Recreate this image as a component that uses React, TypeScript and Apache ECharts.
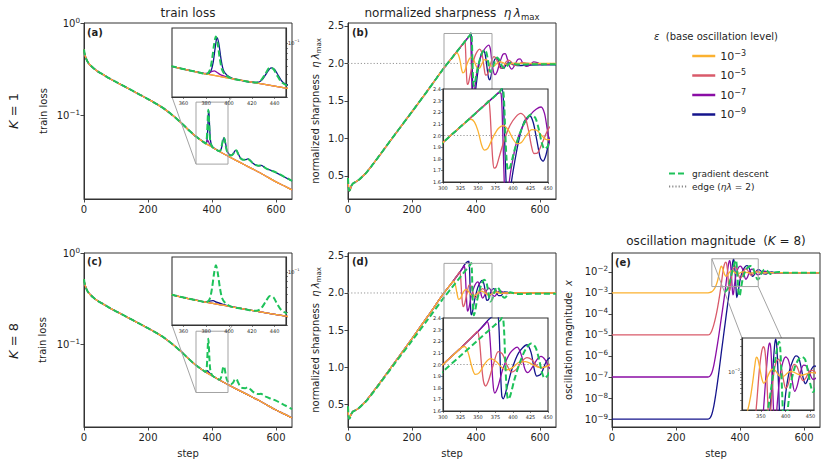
import { useEffect, useRef } from 'react';
import * as echarts from 'echarts';

type Pt = [number, number];

const FONT = 'DejaVu Sans';
const INK = '#1f1f1f';
const FRAME = '#333333';

const COLOR_E3 = '#fbb130';
const COLOR_E5 = '#d95a6a';
const COLOR_E7 = '#8a0da5';
const COLOR_E9 = '#14148c';
const COLOR_GD = '#1ec25a';
const COLOR_EDGE = '#8a8a8a';
const COLOR_BOX = '#a3a3a3';

const EPS_NAMES = ['10⁻³', '10⁻⁵', '10⁻⁷', '10⁻⁹'];
const EPS_EXPONENTS = [-3, -5, -7, -9];
const GD_NAME = 'gradient descent';
const EDGE_NAME = 'edge (ηλ = 2)';
const EDGE_LEVEL = 2;

// ---- axis extents and tick labels ----
const STEP_RANGE: Pt = [0, 650];
const LOSS_RANGE: Pt = [0.0126, 1];
const SHARP_RANGE: Pt = [0.19, 2.54];
const OSC_RANGE: Pt = [4.2e-10, 0.079];

const stepTicks = [0, 200, 400, 600];
const lossTicks = [0.1, 1];
const sharpTicks = [0.5, 1.0, 1.5, 2.0, 2.5];
const oscTicks = [1e-9, 1e-8, 1e-7, 1e-6, 1e-5, 1e-4, 1e-3, 1e-2];

// zoom windows shown in the insets
const lossZoomX: Pt = [350, 450];
const lossZoomY: Pt = [0.03, 0.14];
const sharpZoomX: Pt = [300, 450];
const sharpZoomY: Pt = [1.6, 2.4];
const oscZoomX: Pt = [312, 457];
const oscZoomY: Pt = [0.002, 0.042];

const insetLossXTicks = [360, 380, 400, 420, 440];
const insetLossYTicks = [0.03, 0.04, 0.05, 0.06, 0.07, 0.08, 0.09, 0.1];
const insetLossYLabels = [0.1];
const insetSharpXTicks = [300, 325, 350, 375, 400, 425, 450];
const insetSharpYTicks = [1.6, 1.7, 1.8, 1.9, 2.0, 2.1, 2.2, 2.3, 2.4];
const insetOscXTicks = [350, 400, 450];
const insetOscYTicks = [0.002, 0.003, 0.004, 0.005, 0.006, 0.007, 0.008, 0.009, 0.01, 0.02, 0.03, 0.04];
const insetOscYLabels = [0.01];

// ---- train loss ----
const lossBase: Pt[] = [
  [0, 0.52], [2, 0.465], [5, 0.43], [9, 0.395], [14, 0.37], [20, 0.35], [30, 0.325], [45, 0.297],
  [60, 0.277], [80, 0.252], [100, 0.231], [125, 0.208], [150, 0.187], [175, 0.168], [200, 0.151],
  [225, 0.135], [250, 0.119], [275, 0.102], [300, 0.086], [325, 0.071], [350, 0.0595], [375, 0.0515],
  [400, 0.0458], [425, 0.0408], [450, 0.0366], [475, 0.0329], [500, 0.0297], [525, 0.0268],
  [550, 0.0242], [575, 0.0216], [600, 0.0193], [625, 0.0175], [650, 0.0158],
];

const lossGDTail: Pt[] = [
  [380, 0.0502], [383, 0.054], [385, 0.068], [387, 0.098], [388.5, 0.116], [390, 0.1], [392, 0.07],
  [394, 0.055], [397, 0.049], [402, 0.0455], [410, 0.0437], [418, 0.042], [424, 0.0414], [428, 0.0435],
  [432, 0.0505], [436, 0.058], [439, 0.056], [442, 0.049], [446, 0.042], [452, 0.0385], [460, 0.0372],
  [466, 0.0385], [471, 0.0415], [476, 0.0422], [481, 0.039], [488, 0.035], [496, 0.0335], [504, 0.0334],
  [511, 0.0342], [518, 0.033], [527, 0.0308], [537, 0.0292], [546, 0.0288], [553, 0.029], [560, 0.0283],
  [570, 0.0268], [585, 0.0256], [600, 0.0244], [625, 0.022], [650, 0.0198],
];

const lossBlueK1Tail: Pt[] = [
  [381, 0.05], [384, 0.053], [386, 0.064], [388, 0.092], [389.5, 0.113], [391, 0.1], [393, 0.07],
  [395, 0.055], [398, 0.049], [403, 0.0455], [410, 0.0437], [418, 0.042], [425, 0.0415], [429, 0.044],
  [433, 0.051], [437, 0.0575], [440, 0.0555], [443, 0.049], [447, 0.042], [453, 0.0385], [460, 0.0373],
  [467, 0.039], [472, 0.0418], [477, 0.042], [482, 0.0388], [489, 0.035], [497, 0.0336], [505, 0.0335],
  [512, 0.0342], [519, 0.033], [528, 0.0307], [538, 0.0292], [547, 0.0288], [554, 0.029], [561, 0.0282],
  [571, 0.0267], [586, 0.0255], [600, 0.0243], [625, 0.0219], [650, 0.0197],
];

const lossPurpleK1Bump: Pt[] = [
  [378, 0.0508], [382, 0.0512], [385, 0.053], [387, 0.0538], [389, 0.0525], [392, 0.0497], [396, 0.0478], [402, 0.0455],
];

const lossBlueK8Bump: Pt[] = [
  [379, 0.0506], [383, 0.0516], [386, 0.052], [389, 0.0503], [394, 0.0482], [400, 0.0459],
];

// ---- normalized sharpness ----
const sharpRampK1: Pt[] = [
  [0, 0.47], [1, 0.39], [2, 0.33], [4, 0.3], [7, 0.32], [10, 0.36], [15, 0.395], [25, 0.42], [35, 0.45],
  [45, 0.49], [57, 0.54], [80, 0.665], [100, 0.78], [150, 1.07], [200, 1.355], [250, 1.645], [300, 1.94],
  [325, 2.075], [350, 2.21], [375, 2.345], [385, 2.4],
];

const sharpGDTail: Pt[] = [
  [381, 2.375], [385, 2.405], [387, 2.32], [389, 2.02], [391, 1.78], [393, 1.7], [396, 1.73], [402, 1.87],
  [410, 2.02], [418, 2.13], [426, 2.18], [432, 2.15], [437, 2.05], [441, 1.94], [445, 1.885], [450, 1.91],
  [458, 2.02], [466, 2.08], [474, 2.04], [482, 1.96], [490, 1.935], [498, 1.97], [507, 2.01], [516, 2.0],
  [528, 1.985], [545, 1.985], [570, 1.99], [610, 1.99], [650, 1.99],
];

const sharpOrangeK1Tail: Pt[] = [
  [330, 2.1], [335, 2.13], [340, 2.14], [345, 2.115], [350, 2.04], [355, 1.92], [359, 1.875], [364, 1.89],
  [371, 1.98], [379, 2.06], [386, 2.085], [393, 2.05], [400, 1.97], [406, 1.93], [412, 1.94], [419, 2.0],
  [427, 2.05], [434, 2.045], [441, 2.0], [448, 1.965], [456, 1.965], [465, 2.0], [474, 2.025], [484, 2.01],
  [494, 1.99], [505, 1.99], [518, 2.005], [535, 2.0], [650, 2.0],
];

const sharpRedK1Tail: Pt[] = [
  [360, 2.265], [365, 2.3], [367, 2.22], [369, 2.0], [371, 1.8], [373, 1.72], [376, 1.73], [380, 1.81],
  [388, 1.97], [396, 2.09], [404, 2.16], [411, 2.19], [417, 2.16], [422, 2.05], [426, 1.92], [430, 1.845],
  [435, 1.85], [442, 1.94], [450, 2.05], [456, 2.09], [462, 2.07], [470, 1.99], [477, 1.935], [485, 1.95],
  [494, 2.02], [502, 2.045], [510, 2.02], [520, 1.975], [531, 1.98], [543, 2.01], [556, 2.005], [575, 1.995],
  [650, 1.995],
];

const sharpPurpleK1Tail: Pt[] = [
  [380, 2.37], [383, 2.36], [385, 2.1], [387, 1.7], [389, 1.48], [392, 1.5], [397, 1.7], [405, 1.94],
  [415, 2.09], [425, 2.18], [433, 2.225], [440, 2.245], [445, 2.19], [449, 2.05], [454, 1.9], [459, 1.85],
  [466, 1.89], [475, 2.02], [484, 2.12], [491, 2.13], [498, 2.06], [505, 1.96], [512, 1.925], [520, 1.97],
  [530, 2.05], [538, 2.06], [547, 2.0], [557, 1.96], [568, 1.975], [580, 2.02], [592, 2.01], [605, 1.985],
  [620, 1.99], [650, 1.995],
];

const sharpBlueK1Tail: Pt[] = [
  [380, 2.37], [384, 2.405], [386, 2.33], [388, 1.98], [390, 1.62], [392, 1.46], [395, 1.5], [400, 1.69],
  [408, 1.95], [416, 2.12], [424, 2.17], [429, 2.11], [434, 1.96], [439, 1.81], [443, 1.78], [447, 1.83],
  [452, 1.96], [458, 2.05], [465, 2.075], [472, 2.01], [480, 1.935], [488, 1.94], [496, 1.995], [505, 2.01],
  [515, 1.985], [530, 1.97], [550, 1.975], [600, 1.98], [650, 1.98],
];

const sharpRampK8: Pt[] = [
  [0, 0.45], [1, 0.38], [2, 0.33], [4, 0.31], [7, 0.33], [10, 0.365], [15, 0.4], [25, 0.42], [35, 0.45],
  [45, 0.49], [57, 0.545], [80, 0.675], [100, 0.79], [150, 1.085], [200, 1.385], [250, 1.69], [300, 2.0],
  [325, 2.14], [350, 2.285], [375, 2.425],
];

const sharpOrangeK8Tail: Pt[] = [
  [326, 2.145], [331, 2.155], [336, 2.1], [341, 1.985], [346, 1.915], [352, 1.93], [360, 2.01], [368, 2.05],
  [376, 2.025], [384, 1.975], [392, 1.955], [400, 1.975], [409, 2.02], [418, 2.025], [428, 2.0], [438, 1.975],
  [447, 1.98], [456, 2.005], [466, 2.01], [478, 1.995], [495, 2.0], [650, 2.0],
];

const sharpRedK8Tail: Pt[] = [
  [345, 2.26], [349, 2.285], [352, 2.21], [355, 2.0], [358, 1.85], [361, 1.815], [365, 1.86], [372, 2.0],
  [379, 2.11], [385, 2.09], [391, 2.0], [398, 1.935], [405, 1.96], [413, 2.03], [420, 2.06], [427, 2.04],
  [434, 1.99], [441, 1.97], [449, 1.99], [458, 2.015], [468, 2.01], [480, 1.995], [495, 2.0], [650, 2.0],
];

const sharpPurpleK8Tail: Pt[] = [
  [360, 2.345], [363, 2.37], [366, 2.3], [369, 2.05], [372, 1.8], [374, 1.755], [378, 1.8], [386, 1.97],
  [396, 2.1], [406, 2.15], [412, 2.08], [417, 1.96], [421, 1.93], [427, 1.97], [434, 2.04], [440, 2.07],
  [446, 2.04], [452, 1.97], [458, 1.955], [466, 1.995], [474, 2.03], [484, 2.01], [494, 1.99], [510, 2.0],
  [650, 2.0],
];

const sharpBlueK8Tail: Pt[] = [
  [376, 2.415], [378, 2.43], [380, 2.31], [382, 1.97], [384, 1.73], [386, 1.705], [390, 1.77], [398, 1.95],
  [408, 2.1], [420, 2.17], [426, 2.1], [430, 1.97], [434, 1.9], [440, 1.92], [448, 2.03], [455, 2.06],
  [462, 2.035], [470, 1.965], [478, 1.965], [488, 2.015], [498, 2.01], [510, 1.995], [530, 2.0], [650, 2.0],
];

// ---- oscillation magnitude (K = 8) ----
const oscOrange: Pt[] = [
  [0, 1e-3], [296, 1e-3], [304, 1.03e-3], [311, 1.12e-3], [317, 1.35e-3], [323, 1.9e-3], [329, 3.4e-3],
  [334, 7e-3], [338, 0.0135], [341, 0.0186], [344, 0.0172], [348, 0.0115], [352, 0.0075], [356, 0.0062],
  [361, 0.0071], [367, 0.0096], [373, 0.0112], [379, 0.0106], [386, 0.0087], [393, 0.008], [400, 0.0089],
  [408, 0.0101], [415, 0.01], [423, 0.0092], [432, 0.0087], [442, 0.0092], [452, 0.0097], [465, 0.0094],
  [480, 0.009], [500, 0.0092], [550, 0.0091], [650, 0.009],
];

const oscRed: Pt[] = [
  [0, 1e-5], [300, 1e-5], [306, 1.1e-5], [312, 1.6e-5], [318, 3e-5], [324, 7e-5], [330, 2e-4], [336, 7e-4],
  [342, 3e-3], [347, 0.011], [351, 0.022], [355, 0.029], [358, 0.025], [361, 0.012], [363, 0.0045],
  [365, 0.0018], [367, 0.0012], [369, 0.0016], [372, 0.0038], [376, 0.0095], [381, 0.0155], [386, 0.0172],
  [391, 0.0122], [396, 0.0068], [400, 0.005], [405, 0.0059], [411, 0.0102], [417, 0.0138], [423, 0.0124],
  [429, 0.0087], [435, 0.0069], [441, 0.0079], [448, 0.0103], [455, 0.0107], [462, 0.0093], [470, 0.0085],
  [480, 0.0092], [492, 0.0095], [505, 0.009], [530, 0.0091], [650, 0.009],
];

const oscPurple: Pt[] = [
  [0, 1e-7], [300, 1e-7], [306, 1.1e-7], [312, 1.6e-7], [318, 3.5e-7], [324, 1.1e-6], [330, 4e-6],
  [336, 1.6e-5], [342, 7e-5], [348, 3e-4], [354, 1.4e-3], [359, 6e-3], [363, 0.018], [366, 0.031],
  [368, 0.034], [370, 0.027], [372, 0.012], [374, 0.0045], [376, 0.0015], [378, 0.0008], [380, 0.001],
  [383, 0.0026], [388, 0.0078], [394, 0.0148], [400, 0.0188], [405, 0.017], [410, 0.011], [414, 0.0062],
  [418, 0.0044], [423, 0.0055], [429, 0.0093], [436, 0.0133], [442, 0.0127], [448, 0.0096], [455, 0.0073],
  [462, 0.0078], [470, 0.0097], [478, 0.0107], [487, 0.0098], [496, 0.0088], [508, 0.009], [530, 0.0092],
  [650, 0.009],
];

const oscBlue: Pt[] = [
  [0, 1e-9], [300, 1e-9], [306, 1.1e-9], [312, 1.7e-9], [318, 4e-9], [324, 1.4e-8], [330, 6e-8], [336, 3e-7],
  [342, 1.6e-6], [348, 8e-6], [354, 4e-5], [360, 2e-4], [366, 1e-3], [371, 4.2e-3], [375, 0.015],
  [378, 0.033], [380, 0.04], [382, 0.03], [384, 0.013], [386, 0.0045], [388, 0.0013], [390, 0.0006],
  [392, 0.0006], [395, 0.0013], [400, 0.004], [407, 0.01], [415, 0.0168], [421, 0.0198], [426, 0.0184],
  [431, 0.0122], [436, 0.0072], [440, 0.0061], [445, 0.0075], [452, 0.0113], [459, 0.0129], [466, 0.0108],
  [473, 0.0081], [481, 0.0078], [490, 0.0095], [500, 0.01], [512, 0.009], [530, 0.0091], [650, 0.009],
];

const oscGD: Pt[] = [
  [352, 1.1e-3], [358, 1.3e-3], [364, 2e-3], [370, 4.5e-3], [376, 0.011], [381, 0.022], [385, 0.034],
  [387, 0.036], [389, 0.027], [391, 0.011], [393, 0.0038], [395, 0.0013], [397, 0.0007], [400, 0.0008],
  [404, 0.002], [410, 0.0058], [418, 0.012], [426, 0.017], [433, 0.0188], [439, 0.017], [445, 0.01],
  [450, 0.0058], [455, 0.0043], [460, 0.005], [467, 0.0084], [474, 0.0123], [481, 0.0127], [488, 0.0101],
  [495, 0.0079], [503, 0.0082], [512, 0.0097], [522, 0.01], [535, 0.0091], [550, 0.0091], [650, 0.009],
];

// replace the part of a base curve covered by a patch
const splice = (base: Pt[], patch: Pt[]): Pt[] => [
  ...base.filter((p) => p[0] < patch[0][0]),
  ...patch,
  ...base.filter((p) => p[0] > patch[patch.length - 1][0]),
];

const lossGD = splice(lossBase, lossGDTail);
const sharpGD = splice(sharpRampK1, sharpGDTail);

interface Curve { name: string; color: string; data: Pt[]; dashed?: boolean }

// drawing order: dark first, orange over them, gradient descent on top
const lossK1: Curve[] = [
  { name: EPS_NAMES[3], color: COLOR_E9, data: splice(lossBase, lossBlueK1Tail) },
  { name: EPS_NAMES[2], color: COLOR_E7, data: splice(lossBase, lossPurpleK1Bump) },
  { name: EPS_NAMES[1], color: COLOR_E5, data: lossBase },
  { name: EPS_NAMES[0], color: COLOR_E3, data: lossBase },
  { name: GD_NAME, color: COLOR_GD, data: lossGD, dashed: true },
];
const lossK8: Curve[] = [
  { name: EPS_NAMES[3], color: COLOR_E9, data: splice(lossBase, lossBlueK8Bump) },
  { name: EPS_NAMES[2], color: COLOR_E7, data: lossBase },
  { name: EPS_NAMES[1], color: COLOR_E5, data: lossBase },
  { name: EPS_NAMES[0], color: COLOR_E3, data: lossBase },
  { name: GD_NAME, color: COLOR_GD, data: lossGD, dashed: true },
];
const sharpK1: Curve[] = [
  { name: EPS_NAMES[3], color: COLOR_E9, data: splice(sharpRampK1, sharpBlueK1Tail) },
  { name: EPS_NAMES[2], color: COLOR_E7, data: splice(sharpRampK1, sharpPurpleK1Tail) },
  { name: EPS_NAMES[1], color: COLOR_E5, data: splice(sharpRampK1, sharpRedK1Tail) },
  { name: EPS_NAMES[0], color: COLOR_E3, data: splice(sharpRampK1, sharpOrangeK1Tail) },
  { name: GD_NAME, color: COLOR_GD, data: sharpGD, dashed: true },
];
const sharpK8: Curve[] = [
  { name: EPS_NAMES[3], color: COLOR_E9, data: splice(sharpRampK8, sharpBlueK8Tail) },
  { name: EPS_NAMES[2], color: COLOR_E7, data: splice(sharpRampK8, sharpPurpleK8Tail) },
  { name: EPS_NAMES[1], color: COLOR_E5, data: splice(sharpRampK8, sharpRedK8Tail) },
  { name: EPS_NAMES[0], color: COLOR_E3, data: splice(sharpRampK8, sharpOrangeK8Tail) },
  { name: GD_NAME, color: COLOR_GD, data: sharpGD, dashed: true },
];
const oscK8: Curve[] = [
  { name: EPS_NAMES[3], color: COLOR_E9, data: oscBlue },
  { name: EPS_NAMES[2], color: COLOR_E7, data: oscPurple },
  { name: EPS_NAMES[1], color: COLOR_E5, data: oscRed },
  { name: EPS_NAMES[0], color: COLOR_E3, data: oscOrange },
  { name: GD_NAME, color: COLOR_GD, data: oscGD, dashed: true },
];

// ---- layout: 5 panels + 5 insets ----
const GRID_RECTS = [
  { left: 84, top: 23, width: 208, height: 176 },
  { left: 348, top: 23, width: 208, height: 176 },
  { left: 84, top: 253, width: 208, height: 174 },
  { left: 348, top: 253, width: 208, height: 174 },
  { left: 612, top: 253, width: 208, height: 174 },
  { left: 172, top: 28, width: 114, height: 69 },
  { left: 443, top: 89, width: 105, height: 93 },
  { left: 172, top: 257, width: 114, height: 68 },
  { left: 443, top: 318, width: 105, height: 93 },
  { left: 742, top: 338, width: 72, height: 72 },
];

// powers of ten written as 10 with a raised exponent (rich text)
const powRich = (e: number) => '10{s|' + String(e).replace('-', '−') + '}';
const pow10Label = (v: number) => powRich(Math.round(Math.log10(v)));
const oneDecimal = (v: number) => v.toFixed(1);
const plain = (v: number) => String(Math.round(v));

interface AxisSpec {
  grid: number;
  type: 'value' | 'log';
  range: Pt;
  ticks: number[];
  labels?: number[];
  fmt: (v: number) => string;
  inset?: boolean;
  position?: string;
  name?: string;
  nameGap?: number;
}

const richName = {
  g: { fontSize: 10, fontStyle: 'italic', fontFamily: FONT, color: INK, lineHeight: 14 },
  s: { fontSize: 7, fontFamily: FONT, color: INK, lineHeight: 8, verticalAlign: 'bottom' },
};

function axis(a: AxisSpec) {
  const inset = !!a.inset;
  const fs = inset ? 5 : 10;
  return {
    type: a.type,
    gridIndex: a.grid,
    min: a.range[0],
    max: a.range[1],
    logBase: 10,
    position: a.position,
    z: inset ? 11 : 1,
    axisLine: { show: true, onZero: false, lineStyle: { color: FRAME, width: inset ? 1.1 : 1 } },
    splitLine: { show: false },
    axisTick: {
      show: true,
      length: inset ? 2 : 3.5,
      lineStyle: { color: FRAME, width: inset ? 0.6 : 0.9 },
      customValues: a.ticks,
    },
    axisLabel: {
      show: true,
      customValues: a.labels ?? a.ticks,
      formatter: a.fmt,
      fontSize: fs,
      fontFamily: FONT,
      color: INK,
      lineHeight: fs + 3,
      margin: inset ? 2 : 4,
      rich: {
        s: { fontSize: fs * 0.72, fontFamily: FONT, color: INK, lineHeight: fs * 0.8, verticalAlign: 'top' },
      },
    },
    name: a.name,
    nameLocation: 'middle',
    nameGap: a.nameGap ?? 19,
    nameTextStyle: { fontSize: 10, fontFamily: FONT, color: INK, lineHeight: 14, rich: richName },
  };
}

const xAxes = [
  axis({ grid: 0, type: 'value', range: STEP_RANGE, ticks: stepTicks, fmt: plain }),
  axis({ grid: 1, type: 'value', range: STEP_RANGE, ticks: stepTicks, fmt: plain }),
  axis({ grid: 2, type: 'value', range: STEP_RANGE, ticks: stepTicks, fmt: plain, name: 'step' }),
  axis({ grid: 3, type: 'value', range: STEP_RANGE, ticks: stepTicks, fmt: plain, name: 'step' }),
  axis({ grid: 4, type: 'value', range: STEP_RANGE, ticks: stepTicks, fmt: plain, name: 'step' }),
  axis({ grid: 5, type: 'value', range: lossZoomX, ticks: insetLossXTicks, fmt: plain, inset: true }),
  axis({ grid: 6, type: 'value', range: sharpZoomX, ticks: insetSharpXTicks, fmt: plain, inset: true }),
  axis({ grid: 7, type: 'value', range: lossZoomX, ticks: insetLossXTicks, fmt: plain, inset: true }),
  axis({ grid: 8, type: 'value', range: sharpZoomX, ticks: insetSharpXTicks, fmt: plain, inset: true }),
  axis({ grid: 9, type: 'value', range: oscZoomX, ticks: insetOscXTicks, fmt: plain, inset: true }),
];

const SHARP_NAME = 'normalized sharpness  {g|η\u2009λ}{s|max}';
const yAxes = [
  axis({ grid: 0, type: 'log', range: LOSS_RANGE, ticks: lossTicks, fmt: pow10Label, name: 'train loss', nameGap: 34 }),
  axis({ grid: 1, type: 'value', range: SHARP_RANGE, ticks: sharpTicks, fmt: oneDecimal, name: SHARP_NAME, nameGap: 26 }),
  axis({ grid: 2, type: 'log', range: LOSS_RANGE, ticks: lossTicks, fmt: pow10Label, name: 'train loss', nameGap: 35 }),
  axis({ grid: 3, type: 'value', range: SHARP_RANGE, ticks: sharpTicks, fmt: oneDecimal, name: SHARP_NAME, nameGap: 26 }),
  axis({ grid: 4, type: 'log', range: OSC_RANGE, ticks: oscTicks, fmt: pow10Label, name: 'oscillation magnitude  {g|x}', nameGap: 37 }),
  axis({ grid: 5, type: 'log', range: lossZoomY, ticks: insetLossYTicks, labels: insetLossYLabels, fmt: pow10Label, inset: true, position: 'right' }),
  axis({ grid: 6, type: 'value', range: sharpZoomY, ticks: insetSharpYTicks, fmt: oneDecimal, inset: true }),
  axis({ grid: 7, type: 'log', range: lossZoomY, ticks: insetLossYTicks, labels: insetLossYLabels, fmt: pow10Label, inset: true, position: 'right' }),
  axis({ grid: 8, type: 'value', range: sharpZoomY, ticks: insetSharpYTicks, fmt: oneDecimal, inset: true }),
  axis({ grid: 9, type: 'log', range: oscZoomY, ticks: insetOscYTicks, labels: insetOscYLabels, fmt: pow10Label, inset: true }),
];

function curveSeries(c: Curve, g: number, inset: boolean) {
  return {
    type: 'line',
    name: c.name,
    data: c.data,
    xAxisIndex: g,
    yAxisIndex: g,
    symbol: 'none',
    showSymbol: false,
    smooth: 0.3,
    silent: true,
    z: inset ? 12 : 2,
    color: c.color,
    itemStyle: { color: c.color },
    lineStyle: c.dashed ? { color: c.color, width: 2, type: [6, 3] } : { color: c.color, width: 1.3 },
  };
}

function edgeSeries(g: number, inset: boolean) {
  return {
    type: 'line',
    name: EDGE_NAME,
    data: [[STEP_RANGE[0], EDGE_LEVEL], [STEP_RANGE[1], EDGE_LEVEL]],
    xAxisIndex: g,
    yAxisIndex: g,
    symbol: 'none',
    silent: true,
    z: inset ? 12 : 2,
    color: COLOR_EDGE,
    itemStyle: { color: COLOR_EDGE },
    lineStyle: { color: COLOR_EDGE, width: 0.9, type: [1.2, 2] },
  };
}

function boxSeries(g: number, wx: Pt, wy: Pt) {
  return {
    type: 'line',
    name: 'zoom window',
    data: [[wx[0], wy[0]], [wx[1], wy[0]], [wx[1], wy[1]], [wx[0], wy[1]], [wx[0], wy[0]]],
    xAxisIndex: g,
    yAxisIndex: g,
    symbol: 'none',
    silent: true,
    z: 3,
    lineStyle: { color: COLOR_BOX, width: 1 },
  };
}

function panel(curves: Curve[], g: number, inset: boolean, withEdge: boolean) {
  const list: any[] = [];
  if (withEdge) list.push(edgeSeries(g, inset));
  curves.forEach((c) => list.push(curveSeries(c, g, inset)));
  return list;
}

const series = [
  ...panel(lossK1, 0, false, false), boxSeries(0, lossZoomX, lossZoomY),
  ...panel(sharpK1, 1, false, true), boxSeries(1, sharpZoomX, sharpZoomY),
  ...panel(lossK8, 2, false, false), boxSeries(2, lossZoomX, lossZoomY),
  ...panel(sharpK8, 3, false, true), boxSeries(3, sharpZoomX, sharpZoomY),
  ...panel(oscK8, 4, false, false), boxSeries(4, oscZoomX, oscZoomY),
  ...panel(lossK1, 5, true, false),
  ...panel(sharpK1, 6, true, true),
  ...panel(lossK8, 7, true, false),
  ...panel(sharpK8, 8, true, true),
  ...panel(oscK8, 9, true, false),
];

const grids = GRID_RECTS.map((r, i) => {
  const inset = i >= 5;
  return {
    ...r,
    show: true,
    containLabel: false,
    outerBoundsMode: 'none',
    backgroundColor: inset ? '#ffffff' : 'transparent',
    borderColor: FRAME,
    borderWidth: inset ? 1.1 : 1,
    z: inset ? 10 : 0,
  };
});

const option: any = {
  animation: false,
  backgroundColor: '#ffffff',
  textStyle: { fontFamily: FONT },
  grid: grids,
  xAxis: xAxes,
  yAxis: yAxes,
  series,
  legend: [
    {
      data: EPS_NAMES,
      orient: 'vertical',
      left: 686,
      top: 44,
      itemWidth: 23,
      itemHeight: 10,
      itemGap: 5.5,
      selectedMode: false,
      lineStyle: { width: 2.5 },
      itemStyle: { opacity: 0 },
      formatter: (n: string) => powRich(EPS_EXPONENTS[EPS_NAMES.indexOf(n)]),
      textStyle: {
        fontSize: 11,
        fontFamily: FONT,
        color: INK,
        lineHeight: 14,
        rich: { s: { fontSize: 8, fontFamily: FONT, color: INK, lineHeight: 9, verticalAlign: 'top' } },
      },
    },
    {
      data: [GD_NAME, EDGE_NAME],
      orient: 'vertical',
      left: 663,
      top: 164,
      itemWidth: 18,
      itemHeight: 10,
      itemGap: 4,
      selectedMode: false,
      itemStyle: { opacity: 0 },
      formatter: (n: string) => (n === EDGE_NAME ? 'edge ({g|ηλ} = 2)' : n),
      textStyle: {
        fontSize: 9,
        fontFamily: FONT,
        color: INK,
        rich: { g: { fontSize: 9, fontFamily: FONT, fontStyle: 'italic', color: INK } },
      },
    },
  ],
};

function label(x: number, y: number, text: string, size: number, extra: any = {}) {
  return {
    type: 'text',
    x,
    y,
    silent: true,
    z: 20,
    style: {
      text,
      fill: INK,
      fontFamily: FONT,
      fontSize: size,
      align: 'center',
      verticalAlign: 'middle',
      lineHeight: size + 4,
      ...extra,
    },
  };
}

const titleRich = {
  g: { fontSize: 12, fontStyle: 'italic', fontFamily: FONT, fill: INK, lineHeight: 16 },
  s: { fontSize: 8.5, fontFamily: FONT, fill: INK, lineHeight: 9, verticalAlign: 'bottom' },
};
const italicRich = (size: number) => ({ g: { fontSize: size, fontStyle: 'italic', fontFamily: FONT, fill: INK } });

const textGraphics = [
  label(188, 13, 'train loss', 12),
  label(452, 13, 'normalized sharpness  {g|η\u2009λ}{s|max}', 12, { rich: titleRich }),
  label(716, 241, 'oscillation magnitude  ({g|K} = 8)', 12, { rich: titleRich }),
  { ...label(13, 111, '{g|K} = 1', 13, { rich: italicRich(13) }), rotation: Math.PI / 2 },
  { ...label(13, 341, '{g|K} = 8', 13, { rich: italicRich(13) }), rotation: Math.PI / 2 },
  label(716, 36, '{g|ε}  (base oscillation level)', 10, { rich: italicRich(10) }),
  label(87, 32, '(a)', 10, { fontWeight: 'bold', align: 'left' }),
  label(352, 32, '(b)', 10, { fontWeight: 'bold', align: 'left' }),
  label(87, 261, '(c)', 10, { fontWeight: 'bold', align: 'left' }),
  label(352, 261, '(d)', 10, { fontWeight: 'bold', align: 'left' }),
  label(615, 262, '(e)', 10, { fontWeight: 'bold', align: 'left' }),
];

// connector lines between each zoom window and its inset; [x-end, y-end] indices of the window corner
const INSET_LINKS: { main: number; inset: number; wx: Pt; wy: Pt; corners: [number, number][] }[] = [
  { main: 0, inset: 5, wx: lossZoomX, wy: lossZoomY, corners: [[0, 0], [1, 1]] },
  { main: 2, inset: 7, wx: lossZoomX, wy: lossZoomY, corners: [[0, 0], [1, 1]] },
  { main: 4, inset: 9, wx: oscZoomX, wy: oscZoomY, corners: [[0, 1], [1, 0]] },
];

function connectorGraphics(chart: echarts.ECharts) {
  const out: any[] = [];
  INSET_LINKS.forEach((l) => {
    l.corners.forEach(([i, j]) => {
      const pt = [l.wx[i], l.wy[j]];
      const a = chart.convertToPixel({ gridIndex: l.main } as any, pt) as number[];
      const b = chart.convertToPixel({ gridIndex: l.inset } as any, pt) as number[];
      if (!a || !b) return;
      out.push({
        type: 'line',
        silent: true,
        z: 5,
        shape: { x1: a[0], y1: a[1], x2: b[0], y2: b[1] },
        style: { stroke: COLOR_BOX, lineWidth: 1 },
      });
    });
  });
  return out;
}

export default function App() {
  const ref = useRef<HTMLDivElement>(null);
  useEffect(() => {
    const el = ref.current;
    if (!el) return;
    const chart = echarts.init(el, undefined, { renderer: 'svg' });
    chart.setOption(option);
    const links = connectorGraphics(chart);
    chart.setOption({ graphic: { elements: [...textGraphics, ...links] } });
    return () => chart.dispose();
  }, []);
  return (
    <div
      ref={ref}
      style={{ position: 'fixed', left: 0, top: 0, width: 827, height: 465, background: '#ffffff' }}
    />
  );
}
